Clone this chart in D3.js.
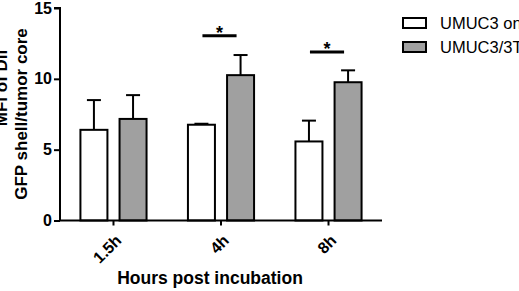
<!DOCTYPE html>
<html>
<head>
<script src="https://cdn.jsdelivr.net/npm/d3@7"></script>
<style>
  body { margin: 0; background: #fff; }
  text { font-family: "Liberation Sans", Arial, Helvetica, sans-serif; }
  .tick text { font-weight: bold; font-size: 16px; fill: #000; }
</style>
</head>
<body>
<div id="chart"></div>
<script>
  var categories = ['1.5h', '4h', '8h'];
  var seriesNames = ['UMUC3 only', 'UMUC3/3T3'];
  var meanOnly = [6.4, 6.76, 5.58];
  var errOnly = [2.1, 0.07, 1.47];
  var meanCo = [7.17, 10.26, 9.76];
  var errCo = [1.68, 1.42, 0.84];
  var yTicks = [0, 5, 10, 15];
  var sigCats = ['4h', '8h'];
  var sigLevel = [13.05, 11.9];

  var width = 519, height = 291;
  var plotLeft = 60, plotRight = 382, plotTop = 8, plotBottom = 220.5;

  var svg = d3.select('#chart').append('svg')
    .attr('width', width)
    .attr('height', height);

  var x0 = d3.scaleBand()
    .domain(categories)
    .range([plotLeft, plotRight])
    .paddingInner(0.385)
    .paddingOuter(0.19);

  var x1 = d3.scaleBand()
    .domain(seriesNames)
    .range([0, x0.bandwidth()])
    .paddingInner(0.31);

  var y = d3.scaleLinear().domain([0, 15]).range([plotBottom, plotTop]);

  var fills = ['#ffffff', '#a0a0a0'];

  var rows = categories.map(function(c, i) {
    return [
      { cat: c, s: seriesNames[0], v: meanOnly[i], e: errOnly[i], f: fills[0] },
      { cat: c, s: seriesNames[1], v: meanCo[i], e: errCo[i], f: fills[1] }
    ];
  });
  var bars = d3.merge(rows);

  // error bars first so the bar covers the lower part
  var eb = svg.append('g').selectAll('g').data(bars).enter().append('g')
    .attr('transform', function(d) {
      return 'translate(' + (x0(d.cat) + x1(d.s) + x1.bandwidth() / 2) + ',0)';
    });
  eb.append('line')
    .attr('y1', function(d) { return y(d.v); })
    .attr('y2', function(d) { return y(d.v + d.e); })
    .attr('stroke', '#000').attr('stroke-width', 2);
  eb.append('line')
    .attr('x1', -7).attr('x2', 7)
    .attr('y1', function(d) { return y(d.v + d.e); })
    .attr('y2', function(d) { return y(d.v + d.e); })
    .attr('stroke', '#000').attr('stroke-width', 2);

  svg.append('g').selectAll('rect').data(bars).enter().append('rect')
    .attr('x', function(d) { return x0(d.cat) + x1(d.s); })
    .attr('y', function(d) { return y(d.v); })
    .attr('width', x1.bandwidth())
    .attr('height', function(d) { return y(0) - y(d.v); })
    .attr('fill', function(d) { return d.f; })
    .attr('stroke', '#000')
    .attr('stroke-width', 2);

  // axes
  var yAxis = svg.append('g')
    .attr('transform', 'translate(' + plotLeft + ',0)')
    .call(d3.axisLeft(y).tickValues(yTicks).tickSize(6).tickPadding(2));
  var xAxis = svg.append('g')
    .attr('transform', 'translate(0,' + plotBottom + ')')
    .call(d3.axisBottom(x0).tickSize(5).tickSizeOuter(0));
  svg.selectAll('.domain, .tick line').attr('stroke', '#000').attr('stroke-width', 2);
  yAxis.select('.domain').attr('d', 'M-6,' + plotTop + 'H0V' + plotBottom);
  xAxis.select('.domain').attr('d', 'M' + plotLeft + ',0H' + plotRight);
  xAxis.selectAll('.tick text')
    .attr('text-anchor', 'end')
    .attr('dy', null)
    .attr('y', 0)
    .attr('transform', 'translate(9,21) rotate(-45)');

  // significance
  sigCats.forEach(function(c, i) {
    var xa = x0(c) + x1(seriesNames[0]) + x1.bandwidth() / 2 + 1;
    var xb = x0(c) + x1(seriesNames[1]) + x1.bandwidth() / 2 - 4;
    svg.append('line')
      .attr('x1', xa).attr('x2', xb)
      .attr('y1', y(sigLevel[i])).attr('y2', y(sigLevel[i]))
      .attr('stroke', '#000').attr('stroke-width', 3);
    svg.append('text')
      .attr('x', (xa + xb) / 2).attr('y', y(sigLevel[i]) + 3)
      .attr('text-anchor', 'middle')
      .style('font-size', '18px').style('font-weight', 'bold')
      .text('*');
  });

  // axis titles
  svg.append('text')
    .attr('x', 210).attr('y', 284)
    .attr('text-anchor', 'middle')
    .style('font-size', '17.5px').style('font-weight', 'bold')
    .text('Hours post incubation');

  var yl = svg.append('g').attr('transform', 'rotate(-90)');
  yl.append('text')
    .attr('x', -88).attr('y', 7)
    .attr('text-anchor', 'middle')
    .style('font-size', '17px').style('font-weight', 'bold')
    .text('MFI of DiI');
  yl.append('text')
    .attr('x', -114).attr('y', 27)
    .attr('text-anchor', 'middle')
    .style('font-size', '17px').style('font-weight', 'bold')
    .text('GFP shell/tumor core');

  // legend
  var legend = svg.selectAll('.legend').data(seriesNames).enter().append('g')
    .attr('class', 'legend')
    .attr('transform', function(d, i) { return 'translate(403,' + (18 + i * 24) + ')'; });
  legend.append('rect')
    .attr('width', 23).attr('height', 10)
    .attr('fill', function(d, i) { return fills[i]; })
    .attr('stroke', '#000').attr('stroke-width', 2);
  legend.append('text')
    .attr('x', 37).attr('y', 11)
    .style('font-size', '16.5px')
    .text(function(d) { return d; });
</script>
</body>
</html>
